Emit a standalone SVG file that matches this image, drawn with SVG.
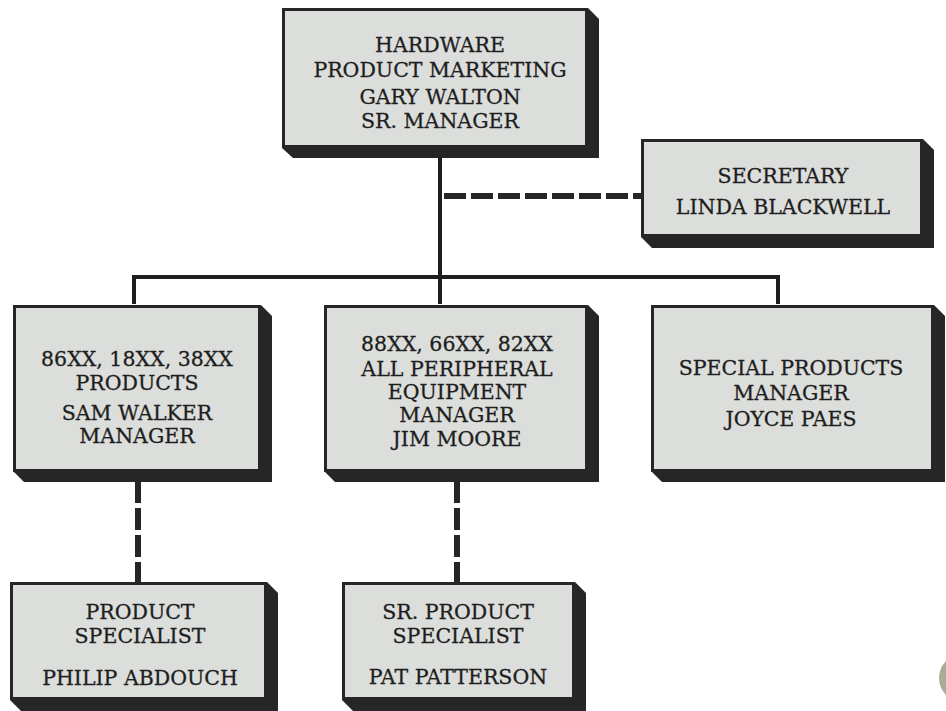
<svg xmlns="http://www.w3.org/2000/svg" width="946" height="711" viewBox="0 0 946 711">
<defs>
<style>
.sh{fill:#262626}
.face{fill:#dcdedb;stroke:#262626;stroke-width:3}
.t{font-family:"DejaVu Serif","Liberation Serif",serif;font-size:20.5px;fill:#1e1e1e;stroke:#1e1e1e;stroke-width:0.3;text-anchor:middle}
.solid{fill:none;stroke:#1e1e1e;stroke-width:4}
.dash{fill:none;stroke:#262626;stroke-width:6;stroke-dasharray:22 5}
</style>
</defs>
<rect width="946" height="711" fill="#ffffff"/>
<g id="connectors">
<path class="solid" d="M440 150 V277 M134 277 H778 M134 275 V304 M778 275 V304 M440 277 V304"/>
<path class="dash" d="M444 196 H641"/>
<path class="dash" d="M138 481 V582"/>
<path class="dash" d="M457 481 V582"/>
</g>
<g id="hardware">
<polygon class="sh" points="282,8 588,8 599,19 599,158 293,158 282,148"/>
<rect class="face" x="283.5" y="9.5" width="303" height="137"/>
<text class="t"><tspan x="440" y="52">HARDWARE</tspan><tspan x="440" y="77">PRODUCT MARKETING</tspan><tspan x="440" y="104">GARY WALTON</tspan><tspan x="440" y="128">SR. MANAGER</tspan></text>
</g>
<g id="secretary">
<polygon class="sh" points="641,139 923,139 934,150 934,248 652,248 641,237"/>
<rect class="face" x="642.5" y="140.5" width="279" height="95"/>
<text class="t"><tspan x="783" y="183">SECRETARY</tspan><tspan x="783" y="214">LINDA BLACKWELL</tspan></text>
</g>
<g id="sam">
<polygon class="sh" points="13,305 261,305 272,316 272,482 24,482 13,471"/>
<rect class="face" x="14.5" y="306.5" width="245" height="164"/>
<text class="t"><tspan x="137" y="366">86XX, 18XX, 38XX</tspan><tspan x="137" y="390">PRODUCTS</tspan><tspan x="137" y="420">SAM WALKER</tspan><tspan x="137" y="443">MANAGER</tspan></text>
</g>
<g id="jim">
<polygon class="sh" points="324,305 588,305 599,316 599,482 335,482 324,471"/>
<rect class="face" x="325.5" y="306.5" width="261" height="164"/>
<text class="t"><tspan x="457" y="351">88XX, 66XX, 82XX</tspan><tspan x="457" y="376">ALL PERIPHERAL</tspan><tspan x="457" y="399">EQUIPMENT</tspan><tspan x="457" y="422">MANAGER</tspan><tspan x="457" y="446">JIM MOORE</tspan></text>
</g>
<g id="joyce">
<polygon class="sh" points="651,305 934,305 945,316 945,482 662,482 651,471"/>
<rect class="face" x="652.5" y="306.5" width="280" height="164"/>
<text class="t"><tspan x="791" y="375">SPECIAL PRODUCTS</tspan><tspan x="791" y="400">MANAGER</tspan><tspan x="791" y="426">JOYCE PAES</tspan></text>
</g>
<g id="philip">
<polygon class="sh" points="10,582 267,582 278,593 278,711 21,711 10,700"/>
<rect class="face" x="11.5" y="583.5" width="254" height="115"/>
<text class="t"><tspan x="140" y="619">PRODUCT</tspan><tspan x="140" y="643">SPECIALIST</tspan><tspan x="140" y="685">PHILIP ABDOUCH</tspan></text>
</g>
<g id="pat">
<polygon class="sh" points="342,582 575,582 586,593 586,711 353,711 342,700"/>
<rect class="face" x="343.5" y="583.5" width="230" height="115"/>
<text class="t"><tspan x="458" y="619">SR. PRODUCT</tspan><tspan x="458" y="643">SPECIALIST</tspan><tspan x="458" y="684">PAT PATTERSON</tspan></text>
</g>
<circle cx="963" cy="678" r="24" fill="#a9ad95"/>
</svg>
